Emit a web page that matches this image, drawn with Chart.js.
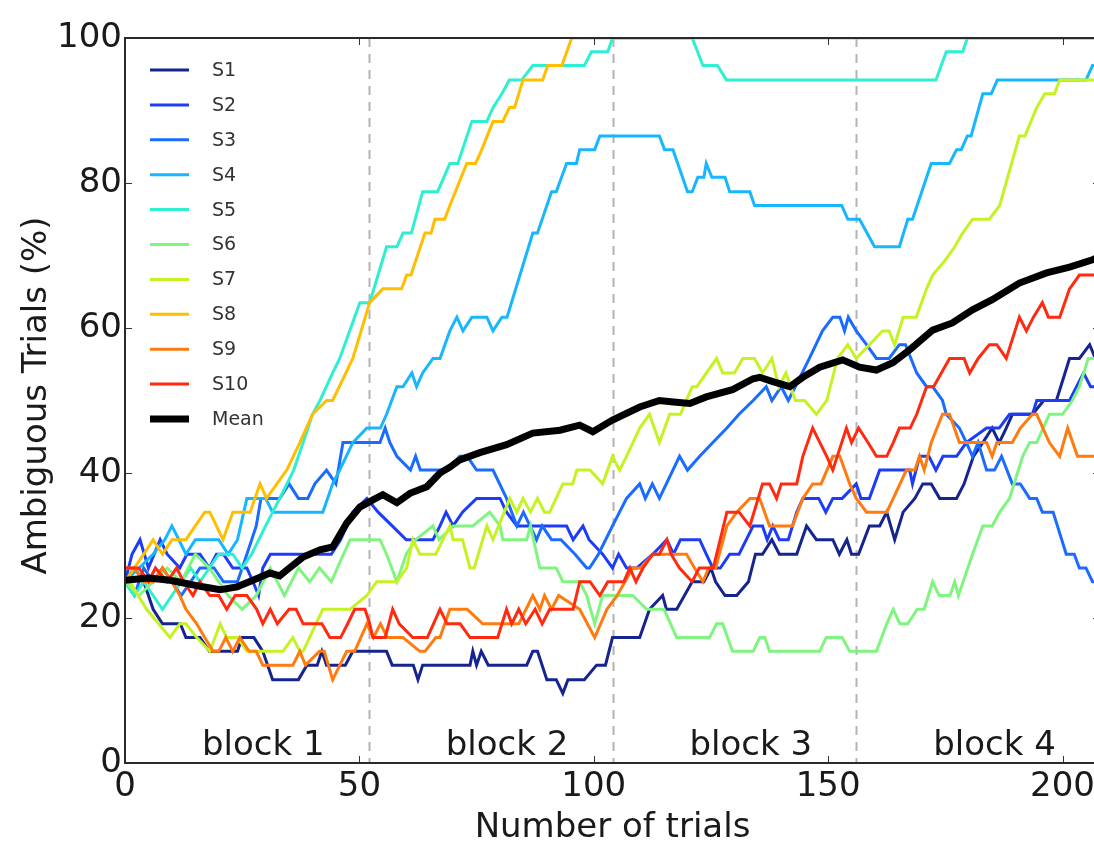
<!DOCTYPE html>
<html>
<head>
<meta charset="utf-8">
<script src="https://cdn.jsdelivr.net/npm/chart.js@4/dist/chart.umd.min.js"></script>
<style>
  html, body { margin: 0; padding: 0; background: #fff; overflow: hidden; }
  #wrap { width: 1094px; height: 852px; overflow: hidden; }
</style>
</head>
<body>
<div id="wrap"><canvas id="myChart" width="1110" height="852"></canvas></div>
<script>
// Ambiguous trials per subject (%)

const xTicks = [0, 50, 100, 150, 200];
const yTicks = [0, 20, 40, 60, 80, 100];
const blockEdges = [0, 52, 104, 156, 208];
const blockLabels = ['block 1', 'block 2', 'block 3', 'block 4'];

const seriesNames = ['S1', 'S2', 'S3', 'S4', 'S5', 'S6', 'S7', 'S8', 'S9', 'S10', 'Mean'];
const seriesColors = ['#15248f', '#1d3cf5', '#1a6bff', '#18b6ff', '#2ef0d0',
                      '#7ff57f', '#c5f223', '#ffbe00', '#ff7b0f', '#ff2a10', '#000000'];

const s1x = [0, 2, 4, 6, 8, 11.8, 13, 16, 18, 24, 25, 27.5, 29.4, 31.5, 37, 38.8, 41, 42, 43, 47, 48.6, 55.8, 57, 61.5, 62.5, 63.5, 73.6, 74.2, 75, 76, 77.5, 85.7, 87, 88, 90, 92, 93.4, 94.5, 98, 100.6, 102.5, 104, 109.8, 111.9, 114.7, 115.5, 117.7, 121, 123.5, 125, 126, 128, 130.5, 133, 134.5, 136, 138, 139.6, 143.3, 145.4, 147.5, 151, 152.4, 154, 155, 156.5, 158.8, 161, 162.5, 164.2, 166, 168.5, 170.2, 172, 173.8, 177.4, 179, 181, 183, 185, 186.5, 188, 189.3, 193.6, 196, 198.7, 201.5, 203.6, 205.8, 207];
const s1y = [25, 26.9, 25, 21.2, 19.2, 19.2, 17.3, 17.3, 15.4, 15.4, 17.3, 17.3, 15.4, 11.5, 11.5, 13.5, 13.5, 15.4, 13.5, 13.5, 15.4, 15.4, 13.5, 13.5, 11.5, 13.5, 13.5, 15.4, 13.5, 15.4, 13.5, 13.5, 15.4, 15.4, 11.5, 11.5, 9.6, 11.5, 11.5, 13.5, 13.5, 17.3, 17.3, 21.2, 23.1, 21.2, 21.2, 25, 25, 26.9, 25, 23.1, 23.1, 25, 28.8, 28.8, 30.8, 28.8, 28.8, 32.7, 30.8, 30.8, 28.8, 30.8, 28.8, 28.8, 32.7, 32.7, 34.6, 30.8, 34.6, 36.5, 38.5, 38.5, 36.5, 36.5, 38.5, 42.3, 44.2, 46.2, 44.2, 46.2, 48.1, 48.1, 50, 50, 55.8, 55.8, 57.7, 55.8];

const s2x = [0, 1.5, 3.2, 5, 7.5, 9, 11.7, 13.2, 16, 18, 19.5, 21, 23, 26, 27.3, 28.5, 29.4, 31, 44, 46, 48.6, 51.6, 54, 57, 60, 65.7, 67.2, 68.5, 70, 72, 75, 80, 81.4, 83.6, 94.2, 95.6, 97.7, 99, 101.9, 104, 105.3, 107, 109.2, 112.6, 115.6, 117, 118.5, 122.6, 124, 125.4, 127, 129, 131, 134, 136, 137, 138.2, 139.6, 141.5, 143.3, 144.6, 148, 149.5, 151, 153, 156, 157, 158.8, 161, 167.4, 168, 169.5, 171.5, 173, 174.5, 177.4, 179.5, 183.8, 186.5, 188.7, 193.6, 194.5, 201.5, 203, 204.5, 206, 207];
const s2y = [25, 28.8, 30.8, 26.9, 30.8, 28.8, 26.9, 28.8, 28.8, 26.9, 28.8, 28.8, 26.9, 26.9, 25, 23.1, 26.9, 28.8, 28.8, 30.8, 34.6, 36.5, 34.6, 32.7, 30.8, 30.8, 32.7, 34.6, 32.7, 34.6, 36.5, 36.5, 34.6, 32.7, 32.7, 30.8, 32.7, 30.8, 28.8, 26.9, 28.8, 26.9, 26.9, 28.8, 30.8, 28.8, 30.8, 30.8, 28.8, 26.9, 26.9, 28.8, 28.8, 32.7, 32.7, 30.8, 32.7, 30.8, 30.8, 34.6, 36.5, 36.5, 34.6, 36.5, 36.5, 38.5, 36.5, 36.5, 40.4, 40.4, 38.5, 42.3, 42.3, 40.4, 42.3, 42.3, 44.2, 46.2, 46.2, 48.1, 48.1, 50, 50, 51.9, 53.8, 51.9, 51.9];

const s3x = [0, 2, 4, 6, 8, 10, 12, 14, 16, 19, 21, 24, 26, 28, 29, 33, 35, 37, 39, 40.5, 43, 45, 46.5, 54.4, 55.5, 56.5, 58, 60.9, 62, 63, 69, 71.4, 73, 75, 78.5, 81.4, 83.6, 85, 87.8, 89, 91, 93, 96, 98.5, 99.1, 101, 104, 107, 109.8, 111, 112.5, 114, 118.3, 120, 122.6, 125.4, 128.4, 131, 134, 136.8, 138, 140, 141.5, 143, 146, 148.8, 151, 152.5, 153.5, 154.3, 156, 158.2, 160.3, 163, 165.2, 166.5, 168.9, 171, 172.3, 174.4, 175.2, 178, 179.5, 180.8, 182, 183.8, 185.5, 187, 189.3, 191, 193, 194.5, 195.7, 198, 200.8, 202.5, 203.6, 205, 206.4, 207];
const s3y = [25, 23.1, 26.9, 25, 26.9, 25, 23.1, 25, 26.9, 26.9, 25, 25, 28.8, 32.7, 36.5, 36.5, 38.5, 36.5, 36.5, 38.5, 40.4, 38.5, 44.2, 44.2, 46.2, 44.2, 42.3, 40.4, 42.3, 40.4, 40.4, 42.3, 42.3, 40.4, 40.4, 36.5, 32.7, 34.6, 30.8, 32.7, 30.8, 30.8, 28.8, 26.9, 26.9, 28.8, 32.7, 36.5, 38.5, 36.5, 38.5, 36.5, 42.3, 40.4, 42.3, 44.2, 46.2, 48.1, 50, 51.9, 50, 51.9, 50, 51.9, 55.8, 59.6, 61.5, 61.5, 59.6, 61.5, 59.6, 57.7, 55.8, 55.8, 57.7, 57.7, 53.8, 51.9, 51.9, 50, 48.1, 46.2, 44.2, 42.3, 44.2, 40.4, 40.4, 42.3, 38.5, 38.5, 36.5, 36.5, 34.6, 34.6, 28.8, 28.8, 26.9, 26.9, 25, 25];

const s4x = [0, 3, 6, 8.5, 10, 11.5, 13, 15, 20, 22, 24, 26, 30, 31.5, 33, 42.2, 44.3, 45.8, 48.6, 51.6, 54.5, 55.8, 58, 59.3, 61.2, 62.2, 63.5, 65.7, 67.2, 69.3, 70.8, 72.1, 74, 77.2, 78.5, 80.4, 81.5, 87, 88, 91, 92, 94.2, 96.3, 97, 100.2, 101.3, 114, 115.1, 116.9, 120, 121, 122.2, 123.5, 124, 125.2, 128, 129, 133.3, 134.3, 152.9, 154.2, 156.7, 159.9, 165.2, 167, 168, 172, 175.9, 177.4, 178.4, 179.7, 180.5, 183, 184.8, 186.1, 205, 206.4, 207];
const s4y = [25, 26.9, 28.8, 30.8, 32.7, 30.8, 28.8, 30.8, 30.8, 28.8, 30.8, 36.5, 36.5, 34.6, 34.6, 34.6, 38.5, 40.4, 44.2, 46.2, 46.2, 48.1, 51.9, 51.9, 53.8, 51.9, 53.8, 55.8, 55.8, 59.6, 61.5, 59.6, 61.5, 61.5, 59.6, 61.5, 61.5, 73.1, 73.1, 78.8, 78.8, 82.7, 82.7, 84.6, 84.6, 86.5, 86.5, 84.6, 84.6, 78.8, 78.8, 80.8, 80.8, 82.7, 80.8, 80.8, 78.8, 78.8, 76.9, 76.9, 75, 75, 71.2, 71.2, 75, 75, 82.7, 82.7, 84.6, 84.6, 86.5, 86.5, 92.3, 92.3, 94.2, 94.2, 96.2, 96.2];

const s5x = [0, 2, 4, 6, 8, 10, 12, 14, 16, 18, 20, 23, 25, 27, 30, 33, 36, 38, 40, 41.6, 44.3, 45.8, 50.1, 52.2, 55.8, 58, 59.3, 61.1, 63.5, 66.7, 69.3, 71, 74, 77.2, 78.5, 80.4, 82, 84.6, 87, 98, 99.5, 103, 104, 121, 123.3, 126.4, 128.3, 173, 175.2, 178.7, 179.7, 207];
const s5y = [25, 23.1, 25, 23.1, 21.2, 23.1, 25, 26.9, 25, 26.9, 28.8, 28.8, 26.9, 28.8, 32.7, 36.5, 40.4, 44.2, 48.1, 50, 53.8, 55.8, 63.5, 63.5, 71.2, 71.2, 73.1, 73.1, 78.8, 78.8, 82.7, 82.7, 88.5, 88.5, 90.4, 92.3, 94.2, 94.2, 96.2, 96.2, 98.1, 98.1, 100, 100, 96.2, 96.2, 94.2, 94.2, 98.1, 98.1, 100, 100];

const s6x = [0, 3, 6, 9, 12, 15, 18, 20, 22, 25, 28, 31, 34, 37, 39.4, 41.5, 44, 48, 54.4, 55.8, 58, 60, 62, 65.7, 67, 70, 74.2, 77.8, 80, 80.6, 85.7, 86.5, 88.5, 92, 93.4, 97, 98.5, 100.2, 101.9, 104, 108.3, 111.3, 115, 117.7, 124.7, 126.2, 127.5, 129.6, 134, 135.4, 136.5, 137.5, 148.2, 149.6, 153, 154.6, 160.3, 162.5, 163.9, 165.3, 167, 169, 170.5, 172.3, 173.7, 176, 177, 177.8, 180.8, 183, 185, 186.6, 188.7, 191.5, 193, 194.5, 197.2, 200, 202.1, 203.6, 205.5, 207];
const s6y = [25, 23.1, 25, 26.9, 25, 28.8, 26.9, 25, 23.1, 21.2, 23.1, 26.9, 23.1, 26.9, 25, 26.9, 25, 30.8, 30.8, 28.8, 25, 28.8, 30.8, 32.7, 30.8, 32.7, 32.7, 34.6, 32.7, 30.8, 30.8, 32.7, 26.9, 26.9, 25, 25, 23.1, 19.2, 23.1, 23.1, 23.1, 21.2, 21.2, 17.3, 17.3, 19.2, 19.2, 15.4, 15.4, 17.3, 17.3, 15.4, 15.4, 17.3, 17.3, 15.4, 15.4, 19.2, 21.2, 19.2, 19.2, 21.2, 21.2, 25, 23.1, 23.1, 25, 23.1, 28.8, 32.7, 32.7, 34.6, 36.5, 42.3, 44.2, 44.2, 48.1, 48.1, 50, 51.9, 55.8, 55.8];

const s7x = [0, 1, 4.6, 9.6, 11.7, 13, 15.3, 18.1, 20.3, 21.7, 24, 26, 33.7, 35.8, 37.3, 38, 42.2, 48, 51.6, 53.7, 58, 60.1, 61.4, 62.9, 66.3, 69.3, 70, 72, 73.6, 74.5, 77.2, 78.5, 82.1, 83.6, 84.9, 86.5, 88, 89.5, 90.6, 93.4, 95.5, 96.4, 99.2, 101.9, 104, 105.5, 107, 109.8, 111.9, 114, 116.2, 118.5, 121, 122, 126.2, 127.5, 130, 131.8, 134.3, 136, 138, 139.5, 141, 143, 145, 147.5, 149.7, 152, 154.2, 156, 158.8, 161.6, 163, 164.2, 166, 168.8, 171, 172.3, 174.8, 177, 178.7, 180.8, 184.4, 186.6, 190.8, 192, 194.5, 196.2, 198.3, 199.4, 207];
const s7y = [25, 25, 21.2, 17.3, 19.2, 19.2, 17.3, 15.4, 19.2, 17.3, 17.3, 15.4, 15.4, 17.3, 15.4, 15.4, 21.2, 21.2, 23.1, 25, 25, 26.9, 30.8, 28.8, 28.8, 32.7, 30.8, 30.8, 26.9, 26.9, 32.7, 30.8, 36.5, 34.6, 36.5, 34.6, 36.5, 34.6, 34.6, 38.5, 38.5, 40.4, 40.4, 38.5, 42.3, 40.4, 42.3, 46.2, 48.1, 44.2, 48.1, 48.1, 51.9, 51.9, 55.8, 53.8, 53.8, 55.8, 55.8, 53.8, 55.8, 51.9, 53.8, 50, 50, 48.1, 50, 55.8, 57.7, 55.8, 57.7, 59.6, 59.6, 57.7, 61.5, 61.5, 65.4, 67.3, 69.2, 71.2, 73.1, 75, 75, 76.9, 86.5, 86.5, 90.4, 92.3, 92.3, 94.2, 94.2];

const s8x = [0, 2, 4, 6, 8, 10, 13, 15, 17, 18.1, 20.9, 23, 26.7, 28.8, 30.2, 32.4, 34.5, 37.3, 40, 43, 44.3, 48.6, 52.2, 55, 59, 60.1, 61, 64, 65.3, 66.1, 68.2, 69.3, 72.9, 74.8, 76.1, 78.5, 80.6, 82, 83.1, 84.9, 89.1, 90.2, 93.2, 95.3, 207];
const s8y = [25, 26.9, 28.8, 30.8, 28.8, 30.8, 30.8, 32.7, 34.6, 34.6, 30.8, 34.6, 34.6, 38.5, 36.5, 38.5, 40.4, 44.2, 48.1, 50, 50, 55.8, 63.5, 65.4, 65.4, 67.3, 67.3, 73.1, 73.1, 75, 75, 76.9, 82.7, 82.7, 84.6, 88.5, 88.5, 90.4, 90.4, 94.2, 94.2, 96.2, 96.2, 100, 100];

const s9x = [0, 2, 4, 6, 8, 10, 11.7, 13, 15.3, 17, 18.8, 20, 21.5, 23, 24.5, 26.5, 28, 29.4, 35.8, 37.3, 38.5, 41.5, 42.5, 44.3, 47.3, 49, 51.6, 53, 54.5, 56, 59.3, 62.9, 64, 66.3, 67.2, 69.3, 73, 76.3, 84, 87, 88.5, 89.5, 91, 92.5, 97, 100.2, 102.8, 105, 108.3, 110, 112.6, 119.8, 121.5, 123.3, 124.5, 126, 128.4, 130.5, 133.3, 135.4, 137.5, 142.4, 144.6, 146.7, 148.5, 151, 152.5, 154.6, 156, 158.2, 162.5, 163.9, 166.7, 168.5, 169.5, 170.5, 172, 174.4, 175.9, 178, 183.8, 185, 186, 189.3, 191, 193.6, 194.5, 197.2, 199.4, 201.1, 203.2, 207];
const s9y = [26.9, 26.9, 25, 25, 26.9, 25, 23.1, 21.2, 19.2, 17.3, 15.4, 15.4, 17.3, 15.4, 17.3, 15.4, 15.4, 13.5, 13.5, 15.4, 13.5, 15.4, 15.4, 11.5, 15.4, 15.4, 19.2, 17.3, 19.2, 17.3, 17.3, 15.4, 15.4, 17.3, 17.3, 21.2, 21.2, 19.2, 19.2, 23.1, 21.2, 23.1, 21.2, 23.1, 21.2, 17.3, 21.2, 23.1, 26.9, 26.9, 28.8, 28.8, 26.9, 25, 26.9, 26.9, 32.7, 34.6, 36.5, 36.5, 32.7, 32.7, 36.5, 38.5, 38.5, 42.3, 42.3, 38.5, 36.5, 34.6, 34.6, 36.5, 40.4, 40.4, 42.3, 40.4, 44.2, 48.1, 48.1, 44.2, 44.2, 42.3, 44.2, 44.2, 46.2, 48.1, 48.1, 44.2, 42.3, 46.2, 42.3, 42.3];

const s10x = [0, 3, 5, 6.5, 9, 11, 12.5, 14.5, 16, 18.1, 20, 21.7, 23.5, 26, 28.1, 29.4, 31, 32.5, 35, 36.5, 38, 42, 43.7, 46, 47.5, 49, 51.2, 52.2, 52.9, 55.5, 57.1, 58.5, 61.4, 64.5, 67.2, 68.7, 71.5, 73.6, 79.5, 81.4, 82.5, 84, 85.5, 87.5, 89, 90.6, 95.6, 97, 99.2, 101.3, 103, 106.4, 107.7, 109, 110.5, 112.6, 114, 115.6, 116.5, 118.3, 121, 122.5, 125.5, 128.4, 131, 133.3, 136, 137.5, 139, 140, 143.3, 144.6, 146.7, 149.7, 151, 153.9, 155, 156.5, 158.5, 160.3, 162.5, 163.9, 165.2, 167.5, 168.9, 171, 172.5, 175.9, 179, 180.2, 182, 184.4, 186, 188, 190.8, 192.3, 193.8, 195.7, 197, 199.4, 201.5, 203.6, 207];
const s10y = [26.9, 26.9, 25, 26.9, 25, 26.9, 25, 23.1, 25, 23.1, 23.1, 21.2, 23.1, 23.1, 21.2, 19.2, 21.2, 19.2, 21.2, 21.2, 19.2, 19.2, 17.3, 17.3, 19.2, 21.2, 21.2, 19.2, 17.3, 17.3, 21.2, 19.2, 17.3, 17.3, 21.2, 19.2, 19.2, 17.3, 17.3, 21.2, 19.2, 21.2, 19.2, 21.2, 19.2, 21.2, 21.2, 25, 25, 23.1, 25, 25, 26.9, 25, 26.9, 28.8, 28.8, 30.8, 28.8, 26.9, 25, 26.9, 26.9, 34.6, 34.6, 32.7, 38.5, 38.5, 36.5, 38.5, 38.5, 42.3, 46.2, 42.3, 40.4, 46.2, 44.2, 46.2, 44.2, 42.3, 42.3, 44.2, 46.2, 46.2, 48.1, 51.9, 51.9, 55.8, 55.8, 53.8, 55.8, 57.7, 57.7, 55.8, 61.5, 59.6, 61.5, 63.5, 61.5, 61.5, 65.4, 67.3, 67.3];

const meanX = [0, 5, 9.6, 12.8, 16.6, 20.3, 23.9, 27.3, 30.9, 33, 34.5, 38, 41.6, 44.3, 47.3, 50.1, 52.9, 55, 58, 60.8, 64.4, 67.2, 69.3, 71.4, 75.7, 81.4, 87, 92.8, 97, 99.8, 104, 109.8, 114, 117, 120.5, 124, 129.6, 134, 135.4, 138.2, 141.8, 144.6, 148.2, 153.1, 156.7, 160.3, 163.8, 167.4, 172.3, 176.5, 180.8, 185, 190.8, 196.6, 201.5, 206.4, 207];
const meanY = [25.2, 25.5, 25.2, 24.8, 24.3, 23.9, 24.3, 25.2, 26.2, 25.8, 26.6, 28.4, 29.4, 29.8, 33.1, 35.3, 36.3, 37, 35.9, 37.2, 38.1, 40, 40.8, 41.8, 42.8, 43.9, 45.5, 45.9, 46.6, 45.7, 47.3, 49.1, 50, 49.8, 49.6, 50.5, 51.5, 53, 53.2, 52.6, 51.9, 53.2, 54.6, 55.6, 54.6, 54.2, 55.2, 57, 59.7, 60.7, 62.5, 63.9, 66.2, 67.6, 68.4, 69.4, 69.6];

const xsAll = [s1x, s2x, s3x, s4x, s5x, s6x, s7x, s8x, s9x, s10x, meanX];
const ysAll = [s1y, s2y, s3y, s4y, s5y, s6y, s7y, s8y, s9y, s10y, meanY];

const FONT = 'DejaVu Sans';

const datasets = seriesNames.map((name, i) => ({
    label: name,
    data: xsAll[i].map((x, j) => ({ x: x, y: ysAll[i][j] })),
    borderColor: seriesColors[i],
    backgroundColor: seriesColors[i],
    borderWidth: name === 'Mean' ? 7 : 3,
    pointRadius: 0,
    tension: 0,
    fill: false,
    order: seriesNames.length - i
}));

// dashed block lines, frame, inner ticks, block names, legend, axis titles
const decorations = {
    id: 'decorations',
    beforeDatasetsDraw(chart) {
        const { ctx, chartArea: a, scales: { x } } = chart;
        ctx.save();
        ctx.strokeStyle = '#b4b4b4';
        ctx.lineWidth = 2;
        ctx.setLineDash([9, 7]);
        blockEdges.slice(1, -1).forEach(v => {
            const px = Math.round(x.getPixelForValue(v)) + 0.5;
            ctx.beginPath();
            ctx.moveTo(px, a.top);
            ctx.lineTo(px, a.bottom);
            ctx.stroke();
        });
        ctx.restore();
    },
    afterDatasetsDraw(chart) {
        const { ctx, chartArea: a, scales: { x, y } } = chart;
        ctx.save();
        ctx.strokeStyle = '#333';
        ctx.lineWidth = 1;
        xTicks.forEach(v => {
            const px = Math.round(x.getPixelForValue(v)) + 0.5;
            ctx.beginPath();
            ctx.moveTo(px, a.bottom); ctx.lineTo(px, a.bottom - 7);
            ctx.moveTo(px, a.top); ctx.lineTo(px, a.top + 7);
            ctx.stroke();
        });
        yTicks.forEach(v => {
            const py = Math.round(y.getPixelForValue(v)) + 0.5;
            ctx.beginPath();
            ctx.moveTo(a.left, py); ctx.lineTo(a.left + 7, py);
            ctx.moveTo(a.right, py); ctx.lineTo(a.right - 7, py);
            ctx.stroke();
        });
        ctx.lineWidth = 2;
        ctx.strokeStyle = '#2a2a2a';
        ctx.strokeRect(a.left, a.top, a.right - a.left, a.bottom - a.top);

        ctx.fillStyle = '#1a1a1a';
        ctx.font = '34px "' + FONT + '"';
        ctx.textAlign = 'center';
        ctx.textBaseline = 'alphabetic';
        blockLabels.forEach((t, i) => {
            const mid = (blockEdges[i] + blockEdges[i + 1]) / 2 + 3.5;
            ctx.fillText(t, x.getPixelForValue(mid), a.bottom - 8);
        });
        ctx.restore();
    },
    afterDraw(chart) {
        const { ctx, chartArea: a, scales: { x } } = chart;
        ctx.save();
        // legend
        ctx.font = '19px "' + FONT + '"';
        ctx.textBaseline = 'middle';
        ctx.textAlign = 'left';
        seriesNames.forEach((name, i) => {
            const yy = 70 + i * 34.9;
            ctx.strokeStyle = seriesColors[i];
            ctx.lineWidth = name === 'Mean' ? 7 : 3;
            ctx.beginPath();
            ctx.moveTo(150, yy);
            ctx.lineTo(189, yy);
            ctx.stroke();
            ctx.fillStyle = '#333';
            ctx.fillText(name, 212, yy + 1);
        });
        // axis titles
        ctx.fillStyle = '#1a1a1a';
        ctx.font = '34px "' + FONT + '"';
        ctx.textAlign = 'center';
        ctx.textBaseline = 'alphabetic';
        ctx.fillText('Number of trials', x.getPixelForValue(104), 837);
        ctx.translate(46, (a.top + a.bottom) / 2 - 5);
        ctx.rotate(-Math.PI / 2);
        ctx.fillText('Ambiguous Trials (%)', 0, 0);
        ctx.restore();
    }
};

const config = {
    type: 'line',
    data: { datasets: datasets },
    options: {
        responsive: false,
        animation: false,
        devicePixelRatio: 1,
        layout: { padding: { top: 38, right: 10, left: 0, bottom: 0 } },
        plugins: {
            legend: { display: false },
            tooltip: { enabled: false }
        },
        scales: {
            x: {
                type: 'linear',
                min: 0,
                max: 208,
                grid: { display: false, drawTicks: false },
                border: { display: false },
                ticks: {
                    color: '#1a1a1a',
                    padding: 4,
                    maxRotation: 0,
                    font: { family: FONT, size: 34 }
                },
                afterBuildTicks(scale) { scale.ticks = xTicks.map(v => ({ value: v })); },
                afterFit(scale) { scale.height = 89; }
            },
            y: {
                min: 0,
                max: 100,
                grid: { display: false, drawTicks: false },
                border: { display: false },
                ticks: {
                    color: '#1a1a1a',
                    padding: 3,
                    font: { family: FONT, size: 34 }
                },
                afterBuildTicks(scale) { scale.ticks = yTicks.map(v => ({ value: v })); },
                afterFit(scale) { scale.width = 125; }
            }
        }
    },
    plugins: [decorations]
};

new Chart(document.getElementById('myChart'), config);
</script>
</body>
</html>
